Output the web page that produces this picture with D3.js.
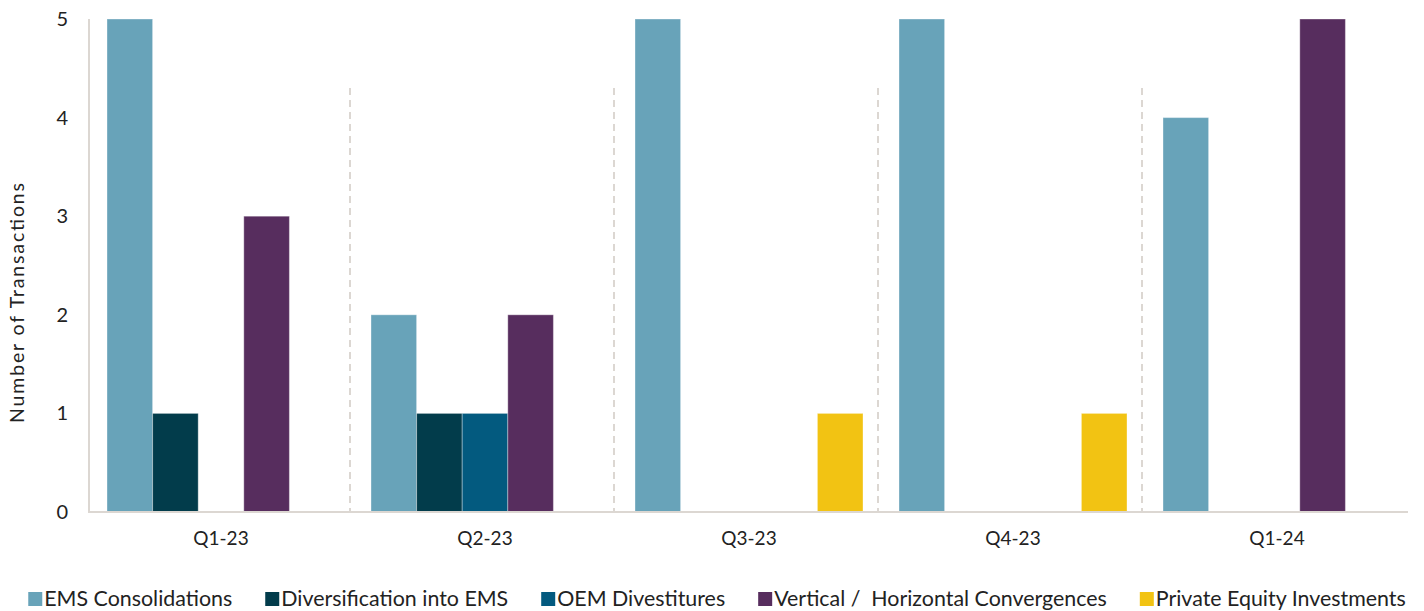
<!DOCTYPE html>
<html>
<head>
<meta charset="utf-8">
<script src="https://cdn.jsdelivr.net/npm/d3@7"></script>
<style>
  html, body { margin: 0; padding: 0; background: #ffffff; }
  svg { display: block; font-family: Lato, "Noto Sans", sans-serif; }
</style>
</head>
<body>
<svg id="chart" width="1424" height="611"></svg>
<script>
const categories = ["Q1-23", "Q2-23", "Q3-23", "Q4-23", "Q1-24"];
const seriesNames = ["EMS Consolidations", "Diversification into EMS", "OEM Divestitures", "Vertical /  Horizontal Convergences", "Private Equity Investments"];
const emsConsolidations = [5, 2, 5, 5, 4];
const diversificationIntoEMS = [1, 1, 0, 0, 0];
const oemDivestitures = [0, 1, 0, 0, 0];
const verticalHorizontal = [3, 2, 0, 0, 5];
const privateEquity = [0, 0, 1, 1, 0];
const seriesColors = ["#68a3b9", "#023c4b", "#035a7f", "#572d5e", "#f2c313"];
const yTicks = [0, 1, 2, 3, 4, 5];

const seriesValues = [emsConsolidations, diversificationIntoEMS, oemDivestitures, verticalHorizontal, privateEquity];

const svg = d3.select("#chart");
const W = 1424, H = 611;
const m = { left: 89, right: 15, top: 19, bottom: 99 };
const plotRight = W - m.right;
const plotBottom = H - m.bottom; // 512

const x0 = d3.scaleBand().domain(categories).range([m.left, plotRight]).paddingInner(0).paddingOuter(0);
const groupPad = 18;
const x1 = d3.scaleBand().domain(d3.range(seriesNames.length)).range([groupPad, x0.bandwidth() - groupPad]).padding(0);
const y = d3.scaleLinear().domain([0, 5]).range([plotBottom, m.top]);

// separators between categories
const sepTop = y(4.3);
svg.append("g").selectAll("line")
  .data(categories.slice(1))
  .join("line")
  .attr("x1", d => x0(d) - 3)
  .attr("x2", d => x0(d) - 3)
  .attr("y1", sepTop)
  .attr("y2", plotBottom)
  .attr("stroke", "#dcd7d2")
  .attr("stroke-width", 2)
  .attr("stroke-dasharray", "7,5");

// bars
const barData = [];
categories.forEach((c, ci) => {
  seriesValues.forEach((vals, si) => {
    barData.push({ cat: c, s: si, v: vals[ci] });
  });
});
svg.append("g").selectAll("rect")
  .data(barData.filter(d => d.v > 0))
  .join("rect")
  .attr("x", d => x0(d.cat) + x1(d.s))
  .attr("y", d => y(d.v))
  .attr("width", x1.bandwidth())
  .attr("height", d => y(0) - y(d.v))
  .attr("fill", d => seriesColors[d.s])
  .attr("stroke", "rgba(255,255,255,0.35)")
  .attr("stroke-width", 1);

// axes lines
svg.append("line")
  .attr("x1", m.left).attr("x2", m.left)
  .attr("y1", m.top).attr("y2", plotBottom)
  .attr("stroke", "#dcd7d2").attr("stroke-width", 2);
svg.append("line")
  .attr("x1", m.left - 1).attr("x2", plotRight - 1)
  .attr("y1", plotBottom).attr("y2", plotBottom)
  .attr("stroke", "#dcd7d2").attr("stroke-width", 2);

// y axis labels
const yAxis = d3.axisLeft(y).tickValues(yTicks).tickFormat(d3.format("d")).tickSize(0).tickPadding(21);
const yg = svg.append("g").attr("transform", `translate(${m.left},0)`).call(yAxis);
yg.select(".domain").remove();
yg.selectAll("text").attr("font-size", 20).attr("fill", "#222").attr("font-family", "Lato, sans-serif");

// x axis labels
const xAxis = d3.axisBottom(x0).tickSize(0).tickPadding(20);
const xg = svg.append("g").attr("transform", `translate(0,${plotBottom})`).call(xAxis);
xg.select(".domain").remove();
xg.selectAll("text").attr("font-size", 19).attr("fill", "#222").attr("font-family", "Lato, sans-serif");

// y title
svg.append("text")
  .attr("transform", `translate(24,${303}) rotate(-90)`)
  .attr("text-anchor", "middle")
  .attr("font-size", 19.5)
  .attr("fill", "#222")
  .attr("textLength", 240)
  .attr("lengthAdjust", "spacing")
  .text("Number of Transactions");

// legend
const legend = svg.append("g");
const sq = 14, sqGap = 2, itemGap = 33, legendY = 606;
const items = legend.selectAll("g").data(seriesNames).join("g");
items.append("rect")
  .attr("width", sq).attr("height", sq)
  .attr("y", legendY - sq)
  .attr("fill", (d, i) => seriesColors[i]);
items.append("text")
  .attr("x", sq + sqGap)
  .attr("y", legendY)
  .attr("font-size", 21.4)
  .attr("fill", "#222")
  .attr("xml:space", "preserve")
  .style("white-space", "pre")
  .text(d => d);
const widths = [];
items.each(function () {
  const tw = d3.select(this).select("text").node().getComputedTextLength();
  widths.push(sq + sqGap + tw);
});
const total = d3.sum(widths) + itemGap * (widths.length - 1);
const startX = 717 - total / 2;
items.attr("transform", (d, i) => {
  const xx = startX + d3.sum(widths.slice(0, i)) + itemGap * i;
  return `translate(${xx},0)`;
});
</script>
</body>
</html>
